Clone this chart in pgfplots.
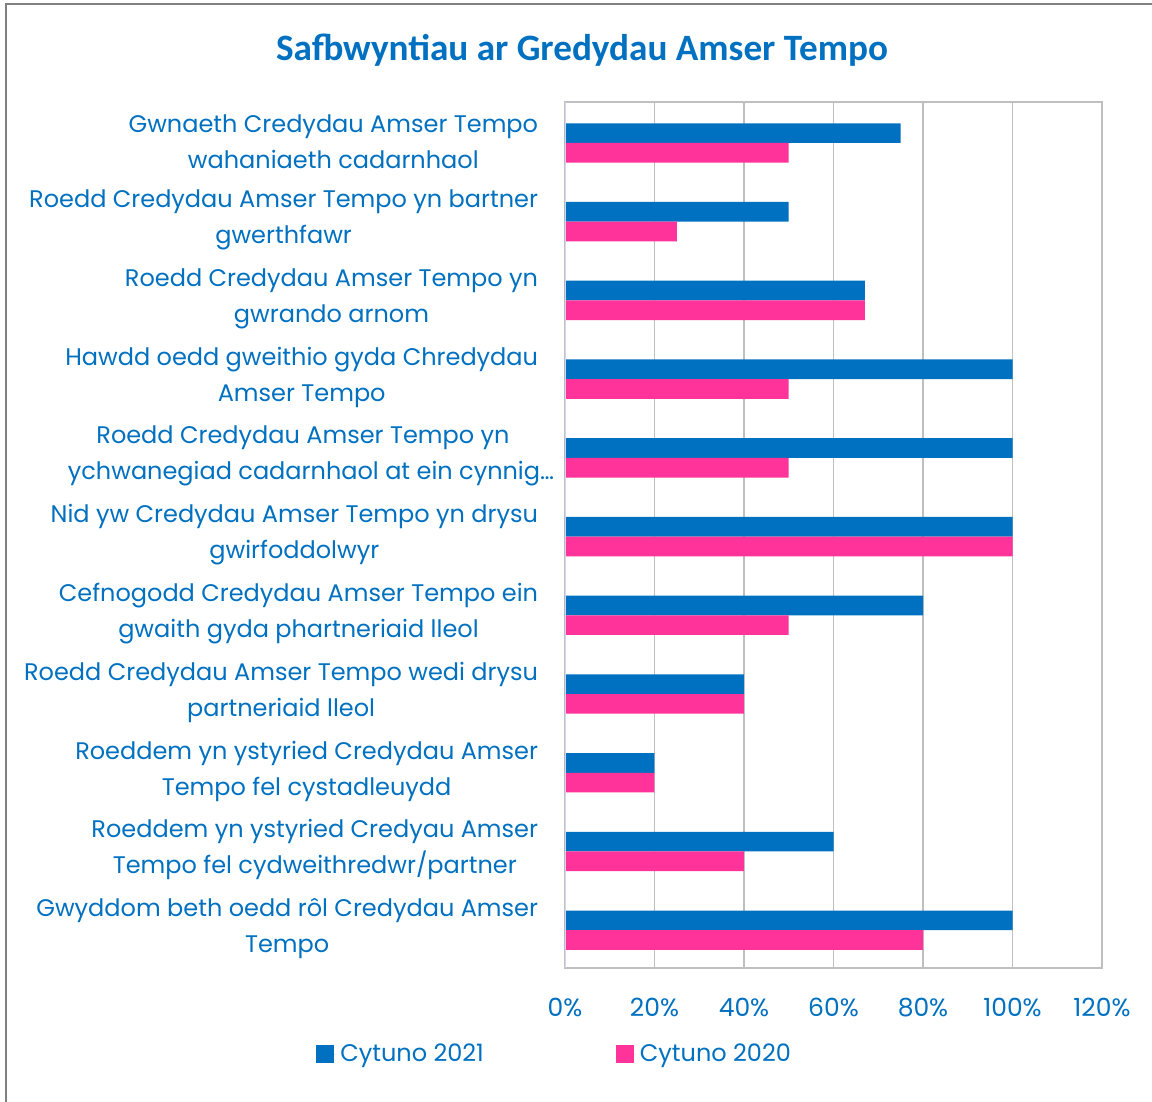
\documentclass[border=0pt]{standalone}
\usepackage{fontspec}
\setmainfont{Poppins}
\newfontfamily\titlefont{Carlito}
\usepackage{pgfplots}
\pgfplotsset{compat=1.18}
\definecolor{cblue}{HTML}{0070C0}
\definecolor{cpink}{HTML}{FF3399}
\definecolor{gridgray}{HTML}{BFBFBF}
\definecolor{framegray}{HTML}{808080}
\definecolor{lav}{HTML}{D4D4F0}
\begin{document}
\begin{tikzpicture}[x=0.5pt,y=0.5pt]
\path[use as bounding box] (0,0) rectangle (1152,1102);
\draw[color=framegray, line width=1pt] (6,0) -- (6,1098) -- (1152,1098);
\node[font=\titlefont\bfseries\fontsize{18.6}{22}\selectfont, text=cblue] at (582,1052) {Safbwyntiau ar Gredydau Amser Tempo};
\begin{axis}[
  at={(282.5pt,67pt)}, anchor=south west,
  scale only axis, width=268.5pt, height=433pt,
  xbar, xmin=0, xmax=120, ymin=-0.5, ymax=10.5, y dir=reverse,
  bar width=0.25,
  ytick={0,...,10},
  yticklabels={
    {Gwnaeth Credydau Amser Tempo\\wahaniaeth cadarnhaol},
    {Roedd Credydau Amser Tempo yn bartner\\gwerthfawr},
    {Roedd Credydau Amser Tempo yn\\gwrando arnom},
    {Hawdd oedd gweithio gyda Chredydau\\Amser Tempo},
    {Roedd Credydau Amser Tempo yn\\ychwanegiad cadarnhaol at ein cynnig…\hspace*{-8pt}},
    {Nid yw Credydau Amser Tempo yn drysu\\gwirfoddolwyr},
    {Cefnogodd Credydau Amser Tempo ein\\gwaith gyda phartneriaid lleol},
    {Roedd Credydau Amser Tempo wedi drysu\\partneriaid lleol},
    {Roeddem yn ystyried Credydau Amser\\Tempo fel cystadleuydd},
    {Roeddem yn ystyried Credyau Amser\\Tempo fel cydweithredwr/partner},
    {Gwyddom beth oedd rôl Credydau Amser\\Tempo}},
  xtick={0,20,...,120},
  xticklabels={0\%,20\%,40\%,60\%,80\%,100\%,120\%},
  xmajorgrids, major grid style={gridgray, line width=0.85pt},
  axis line style={gridgray, line width=0.85pt},
  tick style={draw=none},
  ticklabel style={text=cblue},
  yticklabel style={font=\fontsize{12}{18}\selectfont, align=center, anchor=east, inner sep=0pt, xshift=-9pt},
  xticklabel style={font=\fontsize{12.5}{18}\selectfont, anchor=north, inner sep=0pt, yshift=-15pt},
  legend style={at={(-0.0175,-0.0993)}, anchor=center, draw=none, fill=none,
    legend columns=2, font=\fontsize{12}{18}\selectfont, text=cblue,
    /tikz/every even column/.append style={column sep=64pt}},
  legend cell align=left,
  sqleg/.style={legend image code/.code={\fill[##1] (0pt,-4.5pt) rectangle (9pt,4.5pt); \path (0pt,0pt) -- (10pt,0pt);}},
]
\addplot[fill=cblue, draw=none, bar shift=-0.105, sqleg] coordinates {(75,0) (50,1) (67,2) (100,3) (100,4) (100,5) (80,6) (40,7) (20,8) (60,9) (100,10)};
\addplot[fill=cpink, draw=none, bar shift=0.145, sqleg] coordinates {(50,0) (25,1) (67,2) (50,3) (50,4) (100,5) (50,6) (40,7) (20,8) (40,9) (80,10)};
\legend{Cytuno 2021, Cytuno 2020}
\draw[lav, line width=0.85pt] (axis cs:0,-0.5) -- (axis cs:0,10.5);
\end{axis}
\end{tikzpicture}
\end{document}
